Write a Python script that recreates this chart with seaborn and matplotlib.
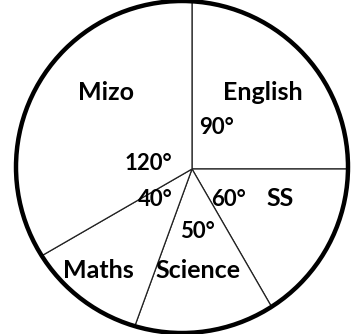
import matplotlib.pyplot as plt
import seaborn as sns
from matplotlib.patches import Circle

# subjects clockwise from the top, sector angles in degrees
subjects = ['English', 'SS', 'Science', 'Maths', 'Mizo']
angles = [90, 60, 50, 40, 120]
angle_labels = ['90°', '60°', '50°', '40°', '120°']

# where the texts sit (pixel coords, y up)
name_pos = [(263, 241), (280, 135), (198, 64), (98, 64), (106, 241)]
angle_pos = [(217, 207), (229, 135), (197, 103), (155, 134), (148, 171)]

sns.set_style('white')
plt.rcParams['font.family'] = ['Lato', 'DejaVu Sans']

fig = plt.figure(figsize=(3.52, 3.34), dpi=100)
ax = fig.add_axes([0, 0, 1, 1])

# hand drawn look: the rim is not centred on the meeting point of the radii
rim = Circle((182, 167), 166, fill=False, edgecolor='black', linewidth=3.2, zorder=5)
ax.add_patch(rim)

wedges, _ = ax.pie(angles, startangle=90, counterclock=False,
                   center=(192, 165), radius=185, colors=['white'] * len(angles),
                   wedgeprops=dict(edgecolor='#222222', linewidth=0.9))
for w in wedges:
    w.set_clip_on(True)
    w.set_clip_path(rim)

for name, (x, y) in zip(subjects, name_pos):
    ax.text(x, y, name, ha='center', va='center', fontsize=18,
            fontweight='bold', color='black')
for lab, (x, y) in zip(angle_labels, angle_pos):
    ax.text(x, y, lab, ha='center', va='center', fontsize=16,
            fontweight='bold', color='black')

ax.set_xlim(0, 352)
ax.set_ylim(0, 334)
ax.set_aspect('equal')
ax.axis('off')

plt.savefig('out.png', dpi=100)
